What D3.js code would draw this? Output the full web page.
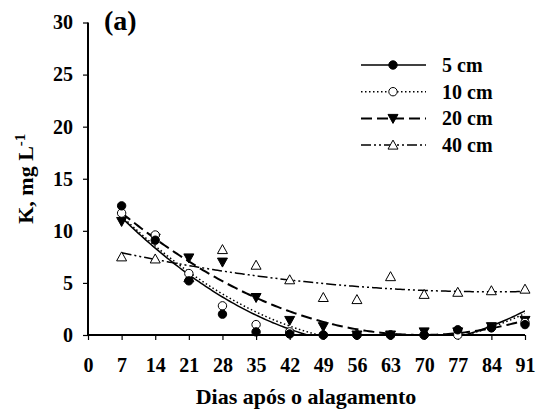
<!DOCTYPE html>
<html><head><meta charset="utf-8">
<script src="https://cdn.jsdelivr.net/npm/d3@7"></script>
<style>body{margin:0;background:#fff}svg{display:block}</style>
</head><body><svg id="c" width="537" height="413"></svg>
<script>
const days = [7,14,21,28,35,42,49,56,63,70,77,84,91];
const k5  = [12.4, 9.1, 5.2, 2.0, 0.3, 0.1, 0.0, 0.0, 0.0, 0.0, 0.5, 0.7, 1.0];
const k10 = [11.7, 9.6, 5.9, 2.8, 1.0, 0.3, 0.0, 0.0, 0.0, 0.0, 0.0, 0.7, 1.2];
const k20 = [10.9, 9.3, 7.4, 7.0, 3.6, 1.4, 0.8, 0.0, 0.0, 0.3, 0.3, 0.8, 1.4];
const k40 = [7.5, 7.3, 5.5, 8.2, 6.7, 5.3, 3.6, 3.4, 5.6, 3.9, 4.1, 4.25, 4.4];
const seriesNames = ["5 cm","10 cm","20 cm","40 cm"];
const xTicks = [0,7,14,21,28,35,42,49,56,63,70,77,84,91];
const yTicks = [0,5,10,15,20,25,30];

const FONT = '"Liberation Serif"';

const series = [
  {name:seriesNames[0], vals:k5,  marker:"circle", fill:"#000", dash:null, w:1.5},
  {name:seriesNames[1], vals:k10, marker:"circle", fill:"#fff", dash:"1.5,2.5", w:1.5},
  {name:seriesNames[2], vals:k20, marker:"tridown", fill:"#000", dash:"11,5", w:2},
  {name:seriesNames[3], vals:k40, marker:"triup", fill:"#fff", dash:"10,3,2,3,2,3", w:1.5}
];

const svg = d3.select("#c");
const x = d3.scaleLinear().domain([0,91]).range([88,525]);
const y = d3.scaleLinear().domain([0,30]).range([335,22.5]);

function quadFit(xs, ys){
  let S=[0,0,0,0,0], T=[0,0,0];
  xs.forEach((xv,i)=>{ for(let p=0;p<5;p++) S[p]+=Math.pow(xv,p); for(let p=0;p<3;p++) T[p]+=ys[i]*Math.pow(xv,p); });
  const A=[[S[0],S[1],S[2],T[0]],[S[1],S[2],S[3],T[1]],[S[2],S[3],S[4],T[2]]];
  for(let i=0;i<3;i++){ for(let j=i+1;j<3;j++){ const f=A[j][i]/A[i][i]; for(let k=i;k<4;k++) A[j][k]-=f*A[i][k]; } }
  const c=[0,0,0];
  for(let i=2;i>=0;i--){ let s=A[i][3]; for(let k=i+1;k<3;k++) s-=A[i][k]*c[k]; c[i]=s/A[i][i]; }
  return c;
}

svg.append("clipPath").attr("id","clip").append("rect")
  .attr("x",x(0)).attr("y",y(30)).attr("width",x(91)-x(0)).attr("height",y(0)-y(30));

const yAxis = d3.axisLeft(y).tickValues(yTicks).tickSize(5).tickPadding(10);
const gy = svg.append("g").attr("transform",`translate(${x(0)},0)`).call(yAxis);
const xAxis = d3.axisBottom(x).tickValues(xTicks).tickSize(5).tickPadding(18);
const gx = svg.append("g").attr("transform",`translate(0,${y(0)})`).call(xAxis);
[gx,gy].forEach(g=>{
  g.attr("font-family",FONT).attr("font-size",20).attr("font-weight","bold");
  g.select(".domain").attr("stroke","#000").attr("stroke-width",2);
  g.selectAll(".tick line").attr("stroke","#000").attr("stroke-width",1.2);
  g.selectAll(".tick text").attr("fill","#000");
});
gy.select(".domain").attr("d",`M0,${y(30)}V${y(0)}`);
gx.select(".domain").attr("d",`M${x(0)},0H${x(91)}`);

const line = d3.line().x(d=>x(d[0])).y(d=>y(d[1]));
series.forEach(s=>{
  const c = quadFit(days, s.vals);
  const pts = d3.range(7, 91.01, 0.5).map(t=>[t, c[0]+c[1]*t+c[2]*t*t]);
  svg.append("path").attr("d",line(pts)).attr("fill","none").attr("stroke","#000")
    .attr("stroke-width",s.w).attr("stroke-dasharray",s.dash).attr("clip-path","url(#clip)");
});

function drawMarker(g, type, cx, cy, fill){
  if(type==="circle"){
    g.append("circle").attr("cx",cx).attr("cy",cy).attr("r",4.2).attr("fill",fill).attr("stroke","#000").attr("stroke-width",1);
  } else if(type==="tridown"){
    g.append("path").attr("d",`M${cx-5},${cy-4}L${cx+5},${cy-4}L${cx},${cy+5}Z`).attr("fill",fill).attr("stroke","#000").attr("stroke-width",1);
  } else {
    g.append("path").attr("d",`M${cx-5},${cy+4}L${cx+5},${cy+4}L${cx},${cy-5}Z`).attr("fill",fill).attr("stroke","#000").attr("stroke-width",1);
  }
}
const mg = svg.append("g");
[3,2,1,0].forEach(i=>{
  const s = series[i];
  days.forEach((d,j)=>drawMarker(mg, s.marker, x(d), y(s.vals[j]), s.fill));
});

const lg = svg.append("g");
series.forEach((s,i)=>{
  const ly = 65 + i*26.7;
  lg.append("line").attr("x1",361).attr("x2",426).attr("y1",ly).attr("y2",ly)
    .attr("stroke","#000").attr("stroke-width",s.w).attr("stroke-dasharray",s.dash);
  drawMarker(lg, s.marker, 393, ly, s.fill);
  lg.append("text").attr("x",442).attr("y",ly+7).attr("font-family",FONT).attr("font-weight","bold").attr("font-size",20).text(s.name);
});

svg.append("text").attr("x",104).attr("y",30).attr("font-family",FONT).attr("font-weight","bold").attr("font-size",28).text("(a)");
svg.append("text").attr("x",306).attr("y",404).attr("text-anchor","middle").attr("font-family",FONT).attr("font-weight","bold").attr("font-size",22).text("Dias após o alagamento");
const yt = svg.append("text").attr("transform",`translate(33,${(y(0)+y(30))/2}) rotate(-90)`).attr("text-anchor","middle").attr("font-family",FONT).attr("font-weight","bold").attr("font-size",22);
yt.append("tspan").text("K, mg L");
yt.append("tspan").attr("dy",-8).attr("font-size",15).text("-1");
</script></body></html>
